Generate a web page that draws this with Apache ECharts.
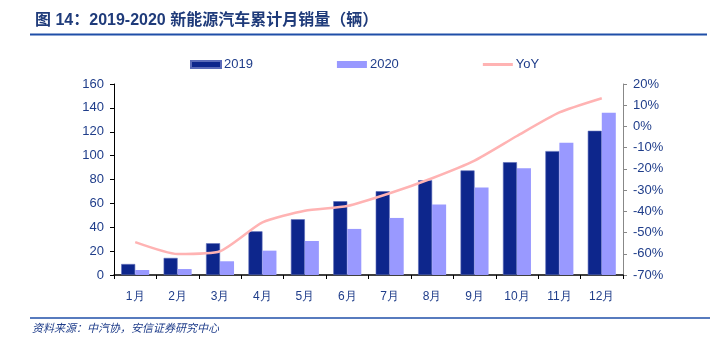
<!DOCTYPE html>
<html><head><meta charset="utf-8">
<script src="https://cdn.jsdelivr.net/npm/echarts@6/dist/echarts.min.js"></script>
<style>html,body{margin:0;padding:0;background:#fff;}#c{width:720px;height:347px;}</style>
</head><body><div id="c"></div>
<script>
const categories = ['1月','2月','3月','4月','5月','6月','7月','8月','9月','10月','11月','12月'];
const sales2019 = [9.2, 14.3, 26.6, 36.6, 46.7, 61.8, 70.2, 79.4, 87.6, 94.5, 103.8, 120.8];
const sales2020 = [4.2, 5.0, 11.5, 20.4, 28.5, 38.6, 47.8, 59.0, 73.3, 89.5, 110.8, 136.0];
const yoy = [-54.5, -60.1, -58.8, -45.2, -39.7, -37.5, -31.5, -24.4, -16.1, -4.5, 6.6, 13.3];
const leftTicks = [0, 20, 40, 60, 80, 100, 120, 140, 160];
const rightTicks = [-70, -60, -50, -40, -30, -20, -10, 0, 10, 20];

const txt = '#1F3D8A';
const chart = echarts.init(document.getElementById('c'));
chart.setOption({
  animation: false,
  textStyle: {fontFamily: 'Liberation Sans, Arial, sans-serif'},
  title: {
    text: '图 14：2019-2020 新能源汽车累计月销量（辆）',
    left: 30, top: 8,
    textStyle: {fontSize: 16, fontWeight: 'bold', color: '#1F3B7A', fontFamily: 'Liberation Sans, "Noto Sans CJK SC", sans-serif'}
  },
  graphic: [
    {type: 'line', shape: {x1: 30, y1: 34.5, x2: 707, y2: 34.5}, style: {stroke: '#1F4FA8', lineWidth: 2}},
    {type: 'line', shape: {x1: 30, y1: 318, x2: 710, y2: 318}, style: {stroke: '#1F4FA8', lineWidth: 1.5}},
    {type: 'text', left: 32, top: 322, style: {text: '资料来源：中汽协，安信证券研究中心', fill: '#1F3D8A', fontSize: 11, fontStyle: 'italic', fontFamily: '"Noto Sans CJK SC", sans-serif'}}
  ],
  legend: {
    top: 53, left: 185, itemGap: 84, itemWidth: 30, itemHeight: 7,
    textStyle: {color: txt, fontSize: 13, padding: [0,0,0,-2]},
    data: [
      {name: '2019', icon: 'rect'},
      {name: '2020', icon: 'rect'},
      {name: 'YoY', icon: 'path://M0,0H30V3H0Z', itemStyle: {color: '#FFB3B3'}}
    ]
  },
  grid: {left: 114, right: 97, top: 84, bottom: 72, containLabel: false},
  xAxis: {
    type: 'category', data: categories,
    axisLine: {lineStyle: {color: '#000', width: 1.5}},
    axisTick: {show: true, lineStyle: {color: '#000'}, length: 4},
    axisLabel: {color: txt, fontSize: 12, margin: 16}
  },
  yAxis: [
    {type: 'value', min: 0, max: 160, interval: 20,
     axisLine: {show: true, lineStyle: {color: '#000'}},
     axisTick: {show: true, length: 4, lineStyle: {color: '#000'}},
     splitLine: {show: false},
     axisLabel: {color: txt, fontSize: 13, margin: 10,
       formatter: v => leftTicks.includes(v) ? String(v) : ''}},
    {type: 'value', min: -70, max: 20, interval: 10,
     axisLine: {show: true, lineStyle: {color: '#888'}},
     axisTick: {show: true, length: 4, lineStyle: {color: '#888'}},
     splitLine: {show: false},
     axisLabel: {color: txt, fontSize: 13, margin: 10,
       formatter: v => rightTicks.includes(v) ? v + '%' : ''}}
  ],
  series: [
    {name: '2019', type: 'bar', data: sales2019, barWidth: 14, barGap: '0%',
     itemStyle: {color: '#0D268C', borderColor: '#5A6AB8', borderWidth: 0.6}},
    {name: '2020', type: 'bar', data: sales2020, barWidth: 14,
     itemStyle: {color: '#9999FF'}},
    {name: 'YoY', type: 'line', yAxisIndex: 1, data: yoy, smooth: 0.2,
     symbol: 'none', lineStyle: {color: '#FFB3B3', width: 2.5}, itemStyle: {color: '#FFB3B3'}}
  ]
});
</script></body></html>
